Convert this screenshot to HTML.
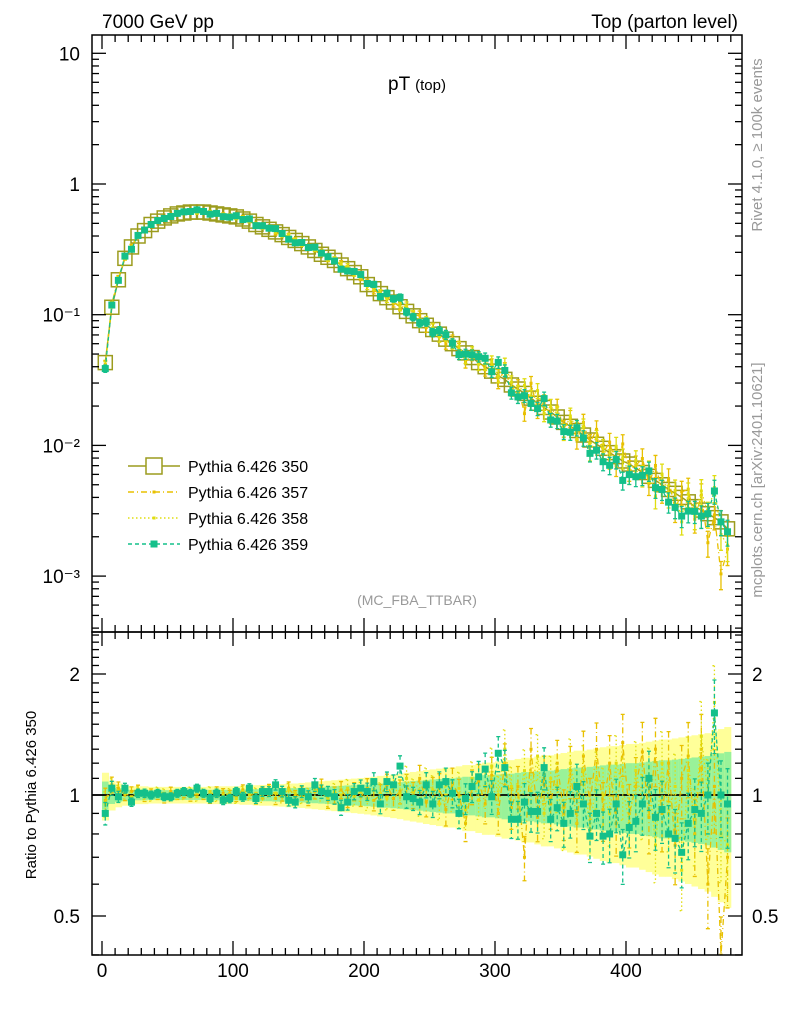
<!DOCTYPE html>
<html><head><meta charset="utf-8"><style>
body{margin:0;background:#fff;}
svg{display:block;font-family:"Liberation Sans",sans-serif;}
</style></head><body>
<svg id="c" width="786" height="1024" viewBox="0 0 786 1024">
<defs>
<clipPath id="cm"><rect x="92" y="35" width="650" height="597"/></clipPath>
<clipPath id="cr"><rect x="92" y="632" width="650" height="323"/></clipPath>
</defs>
<g id="ratio-bands" clip-path="url(#cr)"></g>
<g id="main" clip-path="url(#cm)"></g>
<g id="ratio" clip-path="url(#cr)"></g>
<rect x="92" y="35" width="650" height="597" fill="none" stroke="#000" stroke-width="1.5"/>
<rect x="92" y="632" width="650" height="323" fill="none" stroke="#000" stroke-width="1.5"/>
<g id="axes"></g>
<text x="102" y="28" font-size="19">7000 GeV pp</text>
<text x="738" y="28" font-size="19" text-anchor="end">Top (parton level)</text>
<text x="417" y="90" font-size="19" text-anchor="middle">pT <tspan font-size="15">(top)</tspan></text>
<text x="417" y="605" font-size="14" fill="#999" text-anchor="middle">(MC_FBA_TTBAR)</text>
<text transform="translate(762,145) rotate(-90)" font-size="15" fill="#999" text-anchor="middle">Rivet 4.1.0, ≥ 100k events</text>
<text transform="translate(762,480) rotate(-90)" font-size="15" fill="#999" text-anchor="middle">mcplots.cern.ch [arXiv:2401.10621]</text>
<text transform="translate(36,795) rotate(-90)" font-size="15" text-anchor="middle">Ratio to Pythia 6.426 350</text>
<g id="legend"></g>
</svg>
<script>
const binCenters=[];for(let i=0;i<96;i++)binCenters.push(2.5+5*i);
const ref350=[0.043,0.114,0.185,0.27,0.33,0.40,0.44,0.49,0.52,0.55,0.57,0.59,0.60,0.61,0.61,0.61,0.60,0.59,0.58,0.57,
0.56,0.54,0.52,0.49,0.47,0.45,0.43,0.41,0.39,0.37,0.35,0.33,0.31,0.29,0.275,0.26,0.24,0.225,0.21,0.195,
0.17,0.158,0.145,0.135,0.125,0.115,0.106,0.098,0.09,0.083,0.077,0.071,0.065,0.06,0.055,0.051,0.047,0.043,0.040,0.037,
0.034,0.032,0.029,0.027,0.025,0.023,0.021,0.0195,0.018,0.0165,0.015,0.014,0.013,0.012,0.011,0.0102,0.0095,0.0088,0.0082,0.0076,
0.0072,0.0067,0.0062,0.0058,0.0054,0.005,0.0046,0.0043,0.004,0.0037,0.0034,0.0032,0.003,0.0028,0.0026,0.0023];
const ratio359=[0.90,1.04,0.99,1.04,0.96,1.01,1.01,1.00,1.01,0.99,0.99,1.01,
1.02,1.01,1.04,1.01,0.98,1.01,0.97,0.98,1.02,0.99,
1.04,0.98,1.02,1.02,1.06,1.02,0.97,0.96,1.02,0.99,1.06,
1.02,1.01,0.99,0.93,0.96,1.02,1.04,1.02,1.08,0.95,1.08,
1.06,1.18,0.99,0.98,0.96,1.06,0.95,1.06,1.08,1.01,0.90,
0.98,1.05,1.11,1.16,0.99,1.27,1.17,0.87,0.87,0.96,0.91,0.91,
1.17,0.87,0.93,0.85,0.90,1.05,0.95,0.79,0.90,0.79,0.80,0.95,0.71,0.83,0.86,0.95,
1.10,0.88,0.92,0.80,0.78,0.72,0.85,0.92,0.90,1.00,1.60,1.00,0.95];
const ratio357=[0.97,1.06,1.04,1.00,1.02,1.03,0.99,1.01,1.00,0.98,1.02,1.00,
1.01,0.99,1.03,1.00,0.98,1.02,1.01,1.00,0.99,1.03,1.01,0.98,
1.01,1.03,0.98,1.00,1.04,0.99,1.01,0.98,1.02,1.05,0.97,1.00,
1.03,0.98,1.02,0.99,1.04,0.97,1.00,1.06,0.98,1.02,1.05,1.00,
1.10,0.96,1.02,1.04,0.92,1.07,1.00,0.85,1.05,1.08,0.95,1.12,
0.90,1.20,0.93,1.05,0.70,1.30,0.88,1.10,0.95,1.20,0.90,1.15,
0.85,1.25,0.95,1.30,0.92,1.20,0.85,1.35,0.90,1.05,1.28,0.88,
1.30,0.90,1.20,0.75,1.10,1.25,0.80,1.30,0.60,1.05,0.40,0.70];
const ratio358=[0.95,1.05,1.02,1.01,0.99,1.02,1.00,0.99,1.02,1.01,0.99,1.00,
1.00,1.02,0.99,1.01,1.02,0.99,1.00,1.01,0.98,1.02,1.00,1.01,
0.99,1.02,1.01,0.99,1.03,1.01,0.99,1.00,1.03,1.01,0.98,1.02,
1.00,1.04,0.99,1.02,0.97,1.03,1.01,0.98,1.05,1.00,1.10,1.02,
0.96,1.08,1.03,0.95,1.06,1.00,1.04,0.92,1.10,0.97,1.05,1.18,
1.00,1.30,1.05,0.95,1.15,1.02,1.25,0.90,1.10,1.05,0.85,1.20,
1.00,1.15,0.82,1.10,1.00,0.90,1.20,1.05,0.85,1.15,0.95,1.10,
0.75,1.20,0.90,1.05,0.65,1.15,0.85,1.40,1.00,1.70,0.80,0.75];
const relErr=[0.08,0.05,0.04,0.035,0.03,0.03,0.03,0.028,0.028,0.028,0.028,0.028,
0.028,0.028,0.028,0.028,0.03,0.03,0.03,0.03,0.03,0.032,0.032,0.034,
0.035,0.035,0.037,0.038,0.04,0.04,0.042,0.044,0.046,0.048,0.05,0.052,
0.054,0.056,0.058,0.06,0.062,0.065,0.068,0.07,0.073,0.076,0.08,0.083,
0.086,0.09,0.093,0.096,0.10,0.10,0.105,0.11,0.11,0.115,0.12,0.12,
0.125,0.13,0.13,0.135,0.14,0.14,0.145,0.15,0.15,0.155,0.16,0.165,
0.17,0.17,0.175,0.18,0.185,0.19,0.19,0.195,0.2,0.2,0.205,0.21,
0.215,0.22,0.22,0.225,0.23,0.235,0.24,0.245,0.25,0.26,0.27,0.28];
const xTicks=[0,100,200,300,400];
const yMainTicks=[10,1,0.1,0.01,0.001];
const yMainLabels=["10","1","10⁻¹","10⁻²","10⁻³"];
const yRatioTicks=[0.5,1,2];
const yRatioLabels=["0.5","1","2"];

const NS="http://www.w3.org/2000/svg";
const X=v=>102+v*1.31;
const YM=v=>184-130.7*Math.log10(v);
const YR=r=>795-121*Math.log2(r);
function mk(tag,attrs,parent){const e=document.createElementNS(NS,tag);for(const k in attrs)e.setAttribute(k,attrs[k]);parent.appendChild(e);return e;}
const C350="#9c9c1e",C357="#e8c000",C358="#e0dd10",C359="#14c08a";
const main=document.getElementById('main'),ratio=document.getElementById('ratio'),bands=document.getElementById('ratio-bands'),axes=document.getElementById('axes'),legend=document.getElementById('legend');

for(let i=0;i<96;i++){
  const x0=X(binCenters[i]-2.5),w=X(binCenters[i]+2.5)-x0;
  const e=relErr[i];
  let r=mk('rect',{x:x0,y:YR(1+1.7*e),width:w+0.5,height:YR(Math.max(0.05,1-1.7*e))-YR(1+1.7*e),fill:"#ffff99"},bands);
  
  
  r=mk('rect',{x:x0,y:YR(1+e),width:w+0.5,height:YR(1-e)-YR(1+e),fill:"#99f299"},bands);
  
  
}
let ln=mk('line',{x1:92,x2:742,y1:YR(1),y2:YR(1),stroke:"#000","stroke-width":1.8},ratio);



function series(ratios,color,dash,marker,name,errScale){
  let pm="",pr="";
  for(let i=0;i<96;i++){
    const x=X(binCenters[i]),v=ref350[i]*ratios[i],rr=ratios[i];
    pm+=(i?"L":"M")+x.toFixed(1)+","+YM(v).toFixed(1);
    pr+=(i?"L":"M")+x.toFixed(1)+","+YR(rr).toFixed(1);
    const e=relErr[i]*errScale;
    const eb=mk('path',{d:`M${x},${YM(v*(1+e))}V${YM(v*Math.max(0.1,1-e))}M${x-2},${YM(v*(1+e))}h4M${x-2},${YM(v*Math.max(0.1,1-e))}h4`,stroke:color,"stroke-width":1.3,fill:"none"},main);
    
    
    const er=mk('path',{d:`M${x},${YR(rr*(1+e))}V${YR(rr*Math.max(0.1,1-e))}M${x-2},${YR(rr*(1+e))}h4M${x-2},${YR(rr*Math.max(0.1,1-e))}h4`,stroke:color,"stroke-width":1.3,fill:"none","stroke-dasharray":dash},ratio);
    
    
    const s=marker;
    let m=mk('rect',{x:x-s/2,y:YM(v)-s/2,width:s,height:s,fill:color},main);
    
    
    m=mk('rect',{x:x-s/2,y:YR(rr)-s/2,width:s,height:s,fill:color},ratio);
    
    
  }
  let l=mk('path',{d:pm,stroke:color,fill:"none","stroke-width":1.3,"stroke-dasharray":dash},main);
  
  
  l=mk('path',{d:pr,stroke:color,fill:"none","stroke-width":1.3,"stroke-dasharray":dash},ratio);
  
  
}
(function(){
  let p="";
  for(let i=0;i<96;i++){
    const x=X(binCenters[i]),y=YM(ref350[i]);
    p+=(i?"L":"M")+x.toFixed(1)+","+y.toFixed(1);
    const sq=mk('rect',{x:x-7,y:y-7,width:14,height:14,fill:"none",stroke:C350,"stroke-width":1.5},main);
    
    
  }
  const l=mk('path',{d:p,stroke:C350,fill:"none","stroke-width":1.5},main);
  
  
})();
series(ratio357,C357,"6,3,1,3",3,"pythia-357",0.9);
series(ratio358,C358,"1.5,2.5",3,"pythia-358",0.9);
series(ratio359,C359,"4,3",7,"pythia-359",0.8);

function tick(x1,y1,x2,y2,name){const t=mk('line',{x1,y1,x2,y2,stroke:"#000","stroke-width":1.3},axes);}
for(let v=-10;v<=490;v+=10){
  const x=X(v);if(x<92||x>742)continue;
  const L=(v%100===0)?14:7;
  tick(x,955,x,955-L,'x-tick');tick(x,632,x,632-L,'x-tick');tick(x,632,x,632+L,'x-tick');tick(x,35,x,35+L,'x-tick');
}
xTicks.forEach(v=>{const t=mk('text',{x:X(v),y:977,"font-size":19,"text-anchor":"middle"},axes);t.textContent=v;});
for(let k=-4;k<=1;k++){for(let m=1;m<10;m++){const v=m*Math.pow(10,k),y=YM(v);if(y<35||y>632)continue;const L=m===1?14:7;tick(92,y,92+L,y,'y-tick');tick(742,y,742-L,y,'y-tick');}}
yMainTicks.forEach((v,i)=>{const t=mk('text',{x:80,y:YM(v)+7,"font-size":19,"text-anchor":"end"},axes);t.textContent=yMainLabels[i];});
for(let r=0.4;r<=2.55;r+=0.1){const rr=Math.round(r*10)/10,y=YR(rr);if(y<632||y>955)continue;const L=(rr===0.5||rr===1||rr===2)?14:7;tick(92,y,92+L,y,'ratio-y-tick');tick(742,y,742-L,y,'ratio-y-tick');}
yRatioTicks.forEach((v,i)=>{let t=mk('text',{x:80,y:YR(v)+7,"font-size":19,"text-anchor":"end"},axes);t.textContent=yRatioLabels[i];
t=mk('text',{x:752,y:YR(v)+7,"font-size":19},axes);t.textContent=yRatioLabels[i];});

const legItems=[["Pythia 6.426 350",C350,"",0],["Pythia 6.426 357",C357,"6,3,1,3",3],["Pythia 6.426 358",C358,"1.5,2.5",3],["Pythia 6.426 359",C359,"4,3",7]];
legItems.forEach((it,i)=>{
  const y=466+i*26;
  const g=mk('g',{},legend);
  
  
  mk('line',{x1:128,x2:180,y1:y,y2:y,stroke:it[1],"stroke-width":1.5,"stroke-dasharray":it[2]},g);
  if(i===0)mk('rect',{x:146,y:y-8,width:16,height:16,fill:"#fff",stroke:it[1],"stroke-width":1.5},g);
  else mk('rect',{x:154-it[3]/2,y:y-it[3]/2,width:it[3],height:it[3],fill:it[1]},g);
  const t=mk('text',{x:188,y:y+6,"font-size":16},g);t.textContent=it[0];
});
</script>
</body></html>
